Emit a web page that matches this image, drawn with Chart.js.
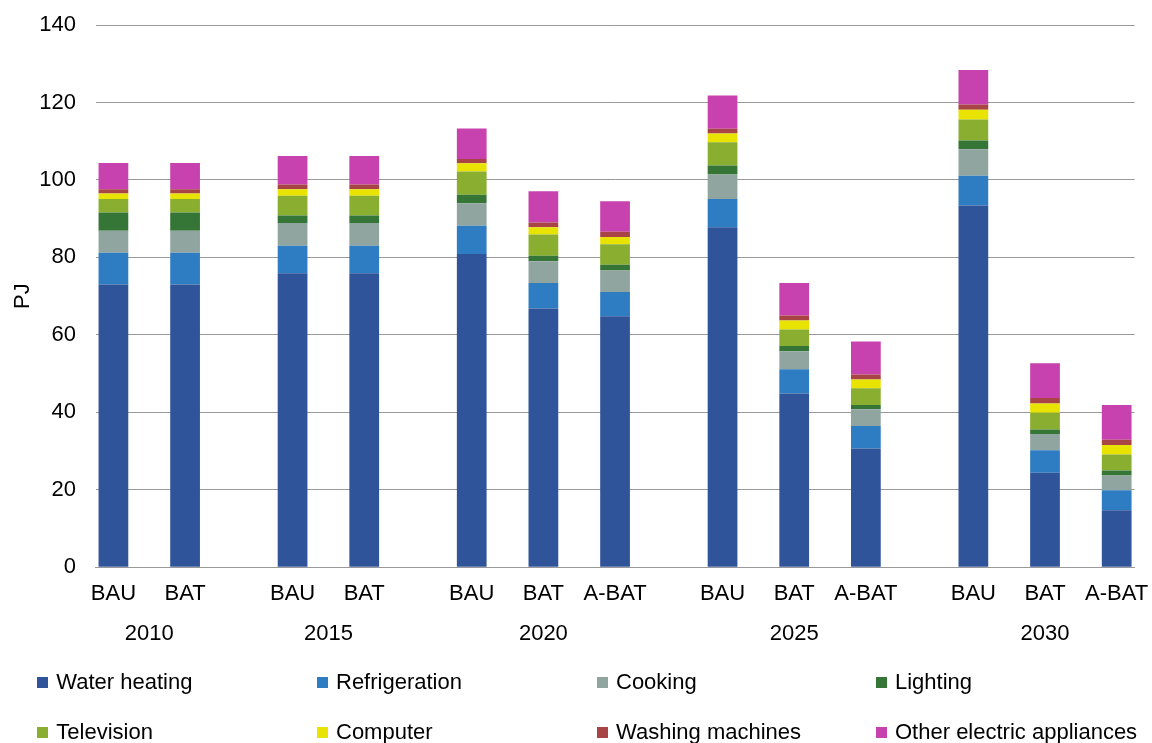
<!DOCTYPE html>
<html>
<head>
<meta charset="utf-8">
<script src="https://cdn.jsdelivr.net/npm/chart.js@4"></script>
<style>
  html, body { margin: 0; padding: 0; background: #fff; }
  #wrap { position: relative; width: 1152px; height: 743px; }
  #legend { position: absolute; left: 0; top: 0; width: 1152px; height: 743px; pointer-events: none;
            font-family: "Liberation Sans", Arial, sans-serif; font-size: 22px; color: #000; }
  .item { position: absolute; white-space: nowrap; line-height: 26px; }
  .sw { position: absolute; width: 11px; height: 11px; left: 0; top: 8px; }
  .lt { position: absolute; left: 19px; top: 0; }
</style>
</head>
<body>
<div id="wrap">
  <canvas id="c" width="1152" height="743"></canvas>
  <div id="legend"></div>
</div>
<script>
// ---- data ----
const years = ['2010', '2015', '2020', '2025', '2030'];
const scenarios = [
  ['BAU', 'BAT'],
  ['BAU', 'BAT'],
  ['BAU', 'BAT', 'A-BAT'],
  ['BAU', 'BAT', 'A-BAT'],
  ['BAU', 'BAT', 'A-BAT']
];
const seriesNames = ['Water heating', 'Refrigeration', 'Cooking', 'Lighting',
                     'Television', 'Computer', 'Washing machines', 'Other electric appliances'];
const seriesColors = ['#30549a', '#2e7cc1', '#91a5a0', '#357536',
                      '#8aae2f', '#e8e300', '#a84446', '#c742ae'];
// order of bars: 2010 BAU, BAT | 2015 BAU, BAT | 2020 BAU, BAT, A-BAT | 2025 BAU, BAT, A-BAT | 2030 BAU, BAT, A-BAT
const waterHeating   = [73.0, 73.0, 75.9, 75.9, 80.9, 66.8, 64.8, 87.8, 44.9, 30.7, 93.4, 24.4, 14.7];
const refrigeration  = [ 8.2,  8.2,  7.1,  7.1,  7.3,  6.6,  6.3,  7.3,  6.2,  5.8,  7.7,  5.8,  5.2];
const cooking        = [ 5.7,  5.7,  5.9,  5.9,  5.8,  5.6,  5.5,  6.3,  4.7,  4.3,  6.8,  4.2,  3.8];
const lighting       = [ 4.7,  4.7,  1.9,  1.9,  2.2,  1.4,  1.5,  2.3,  1.3,  1.1,  2.3,  1.2,  1.3];
const television     = [ 3.5,  3.5,  5.1,  5.1,  6.0,  5.5,  5.3,  6.0,  4.3,  4.3,  5.4,  4.3,  4.1];
const computer       = [ 1.4,  1.4,  1.7,  1.7,  2.1,  1.9,  1.9,  2.3,  2.3,  2.3,  2.5,  2.4,  2.5];
const washing        = [ 1.1,  1.1,  1.2,  1.2,  1.1,  1.2,  1.3,  1.2,  1.3,  1.3,  1.4,  1.4,  1.3];
const otherApps      = [ 6.8,  6.8,  7.4,  7.4,  7.9,  8.1,  7.9,  8.6,  8.4,  8.5,  8.9,  9.0,  9.0];
const seriesValues = [waterHeating, refrigeration, cooking, lighting, television, computer, washing, otherApps];
const yTicks = [0, 20, 40, 60, 80, 100, 120, 140];

// ---- build category slots (bars every other slot, wider gaps between years) ----
const labels = [];
const barSlot = [];
let slot = 0;
scenarios.forEach((grp, gi) => {
  const start = slot;
  grp.forEach((s, si) => {
    const idx = start + si * 2;
    while (labels.length <= idx) labels.push(['', '']);
    labels[idx][0] = s;
    barSlot.push(idx);
  });
  const end = start + (grp.length - 1) * 2;
  const mid = Math.round((start + end) / 2);
  while (labels.length <= mid) labels.push(['', '']);
  labels[mid][1] = years[gi];
  slot = end + 3;
});

const datasets = seriesNames.map((name, i) => {
  const d = new Array(labels.length).fill(null);
  seriesValues[i].forEach((v, k) => { d[barSlot[k]] = v; });
  return {
    label: name, data: d, backgroundColor: seriesColors[i],
    borderWidth: 0, barPercentage: 0.83, categoryPercentage: 1.0
  };
});

const FONT = '"Liberation Sans", Arial, sans-serif';
new Chart(document.getElementById('c'), {
  type: 'bar',
  data: { labels, datasets },
  options: {
    responsive: false, animation: false,
    layout: { padding: { top: 25, right: 17.4, left: 0, bottom: 0 } },
    plugins: { legend: { display: false }, tooltip: { enabled: false } },
    scales: {
      x: {
        stacked: true,
        grid: { display: true, color: 'transparent', drawOnChartArea: false, drawTicks: true,
                tickLength: 6.7, tickColor: 'transparent' },
        border: { display: true, color: '#999', width: 1 },
        ticks: { autoSkip: false, maxRotation: 0, minRotation: 0, padding: 0, color: '#000',
                 font: { family: FONT, size: 22, lineHeight: 40 / 22 } },
        afterFit: s => { s.height = 743 - 567.3; }
      },
      y: {
        stacked: true, min: 0, max: 140,
        afterBuildTicks: s => { s.ticks = yTicks.map(v => ({ value: v })); },
        grid: { color: '#999', lineWidth: 1, drawTicks: true, tickLength: 19.5, tickColor: 'transparent' },
        border: { display: false },
        ticks: { padding: 0, color: '#000', font: { family: FONT, size: 22 } },
        title: { display: true, text: 'PJ', color: '#000', padding: { top: 10, bottom: 0 },
                 font: { family: FONT, size: 22 } },
        afterFit: s => { s.width = 95.5; }
      }
    }
  }
});

// ---- legend (fixed 4-column grid) ----
const lg = document.getElementById('legend');
const colX = [37.3, 317, 597, 876];
const rowY = [669, 719];
seriesNames.forEach((name, i) => {
  const it = document.createElement('div');
  it.className = 'item';
  it.style.left = colX[i % 4] + 'px';
  it.style.top = rowY[Math.floor(i / 4)] + 'px';
  it.innerHTML = '<span class="sw" style="background:' + seriesColors[i] + '"></span><span class="lt"></span>';
  it.querySelector('.lt').textContent = name;
  lg.appendChild(it);
});
</script>
</body>
</html>
